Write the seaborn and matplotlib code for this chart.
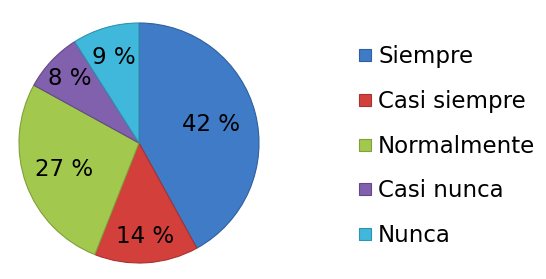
import numpy as np
import matplotlib
matplotlib.use("Agg")
import matplotlib.pyplot as plt
import seaborn as sns
from matplotlib.lines import Line2D

sns.set_theme(style="white")
plt.rcParams["font.family"] = ["DejaVu Sans"]

# Data
categories = ["Siempre", "Casi siempre", "Normalmente", "Casi nunca", "Nunca"]
percentages = [42, 14, 27, 8, 9]
colors = ["#3f7bc6", "#d3403c", "#a3c84e", "#8160ad", "#40b8db"]
edge_colors = ["#2f5f9e", "#a83230", "#80a03a", "#634888", "#2f92ae"]
label_radius = [0.62, 0.78, 0.66, 0.79, 0.74]

fig = plt.figure(figsize=(5.46, 2.79), dpi=100)
ax = fig.add_axes([19 / 546, 16 / 279, 240 / 546, 240 / 279])

wedges, _ = ax.pie(
    percentages,
    colors=colors,
    startangle=90,
    counterclock=False,
    radius=1.0,
)
for w, ec in zip(wedges, edge_colors):
    w.set_edgecolor(ec)
    w.set_linewidth(0.8)

# percentage labels
for w, p, r in zip(wedges, percentages, label_radius):
    ang = np.deg2rad((w.theta1 + w.theta2) / 2)
    ax.text(r * np.cos(ang), r * np.sin(ang), f"{p} %", ha="center", va="center",
            fontsize=16.5, color="black")

ax.set_xlim(-1.0, 1.0)
ax.set_ylim(-1.0, 1.0)
ax.set_aspect("equal")
ax.axis("off")

handles = [
    Line2D([0], [0], marker="s", linestyle="none", markersize=8.5,
           markerfacecolor=c, markeredgecolor=ec, markeredgewidth=0.8)
    for c, ec in zip(colors, edge_colors)
]
leg = fig.legend(
    handles, categories,
    loc="upper left",
    bbox_to_anchor=(346 / 546, 1 - 36 / 279),
    frameon=False,
    fontsize=16.5,
    labelspacing=0.95,
    handletextpad=0.1,
    handlelength=0.9,
    borderaxespad=0,
)
for t in leg.get_texts():
    t.set_color("black")

fig.savefig("out.png", dpi=100, facecolor="white")
